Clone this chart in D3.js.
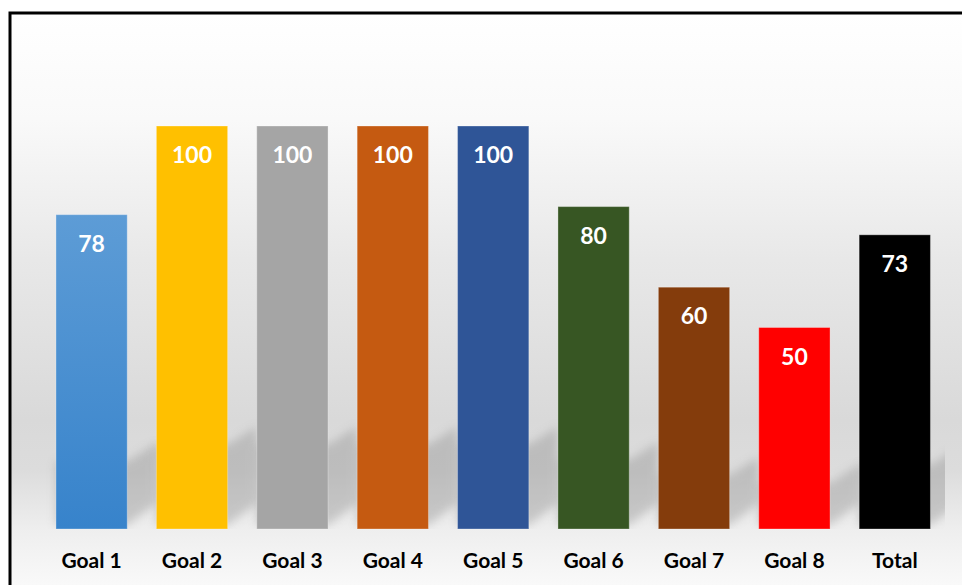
<!DOCTYPE html>
<html>
<head>
<meta charset="utf-8">
<script src="https://cdn.jsdelivr.net/npm/d3@7"></script>
<style>
  body { margin: 0; background: #fff; overflow: hidden; }
</style>
</head>
<body>
<div id="chart"></div>
<script>
// Chart data
const goals = ["Goal 1", "Goal 2", "Goal 3", "Goal 4", "Goal 5", "Goal 6", "Goal 7", "Goal 8", "Total"];
const scores = [78, 100, 100, 100, 100, 80, 60, 50, 73];
const barColors = ["url(#goal1Grad)", "#ffc000", "#a5a5a5", "#c55a11", "#2f5597", "#375623", "#843c0c", "#ff0000", "#000000"];

const width = 962, height = 585;
const baseY = 529;

const svg = d3.select("#chart")
    .append("svg")
    .attr("width", width)
    .attr("height", height);

const defs = svg.append("defs");

// Background gradient of the chart area
const bg = defs.append("linearGradient")
    .attr("id", "bgGrad")
    .attr("gradientUnits", "userSpaceOnUse")
    .attr("x1", 0).attr("y1", 13).attr("x2", 0).attr("y2", 585);
[[13, "#ffffff"], [120, "#f9f9f9"], [260, "#e8e8e8"], [420, "#d9d9d9"], [470, "#dcdcdc"], [529, "#eeeeee"], [585, "#f9f9f9"]]
    .forEach(s => bg.append("stop").attr("offset", (s[0] - 13) / 572).attr("stop-color", s[1]));

// Goal 1 bar gradient
const g1 = defs.append("linearGradient")
    .attr("id", "goal1Grad")
    .attr("x1", 0).attr("y1", 0).attr("x2", 0).attr("y2", 1);
g1.append("stop").attr("offset", 0).attr("stop-color", "#5d9cd6");
g1.append("stop").attr("offset", 1).attr("stop-color", "#3783cb");

// Blur for the shadows
defs.append("filter")
    .attr("id", "blur")
    .attr("x", "-20%").attr("y", "-20%").attr("width", "140%").attr("height", "140%")
    .append("feGaussianBlur")
    .attr("stdDeviation", 5);

defs.append("clipPath")
    .attr("id", "plotClip")
    .append("rect")
    .attr("x", 12).attr("y", 15).attr("width", 933).attr("height", baseY - 15);

// Frame
svg.append("rect")
    .attr("x", 10).attr("y", 13)
    .attr("width", 1000).attr("height", 700)
    .attr("fill", "url(#bgGrad)")
    .attr("stroke", "#000")
    .attr("stroke-width", 3);

// Scales
const x = d3.scaleBand()
    .domain(goals)
    .range([41.4, 945])
    .paddingInner(0.29)
    .paddingOuter(0.145);

const y = d3.scaleLinear()
    .domain([0, 100])
    .range([baseY, 126]);

const data = goals.map((g, i) => ({ goal: g, value: scores[i], color: barColors[i] }));

// Perspective shadows cast to the upper right
svg.append("g")
    .attr("clip-path", "url(#plotClip)")
    .selectAll("path")
    .data(data)
    .enter().append("path")
    .attr("d", d => {
        const x0 = x(d.goal), x1 = x0 + x.bandwidth();
        const gap = x.step() - x.bandwidth();
        const h = (baseY - y(d.value)) * 0.19;
        return `M${x0},${baseY - 4} L${x1},${baseY - 4} L${x1 + gap},${baseY - 26}`
            + ` L${x1 + gap},${baseY - 26 - h} L${x1},${baseY - 8 - h} L${x0},${baseY - 8 - h} Z`;
    })
    .attr("fill", "#8c8c8c")
    .attr("opacity", 0.38)
    .attr("filter", "url(#blur)");

// Bars
svg.selectAll(".bar")
    .data(data)
    .enter().append("rect")
    .attr("class", "bar")
    .attr("x", d => x(d.goal))
    .attr("y", d => y(d.value))
    .attr("width", x.bandwidth())
    .attr("height", d => baseY - y(d.value))
    .attr("fill", d => d.color)
    .attr("stroke", "#ffffff")
    .attr("stroke-opacity", 0.3)
    .attr("stroke-width", 1);

// Value labels inside bars
svg.selectAll(".bar-label")
    .data(data)
    .enter().append("text")
    .attr("class", "bar-label")
    .attr("x", d => x(d.goal) + x.bandwidth() / 2)
    .attr("y", d => y(d.value) + 37)
    .attr("text-anchor", "middle")
    .style("font-family", "Lato, sans-serif")
    .style("font-weight", "bold")
    .style("font-size", "23px")
    .style("fill", "#ffffff")
    .text(d => d.value);

// X axis
const xAxis = svg.append("g")
    .attr("transform", `translate(0,${baseY})`)
    .call(d3.axisBottom(x).tickSize(0).tickPadding(24));
xAxis.select(".domain").remove();
xAxis.selectAll("text")
    .style("font-family", "Lato, sans-serif")
    .style("font-weight", "bold")
    .style("font-size", "21px")
    .style("fill", "#000");
</script>
</body>
</html>
